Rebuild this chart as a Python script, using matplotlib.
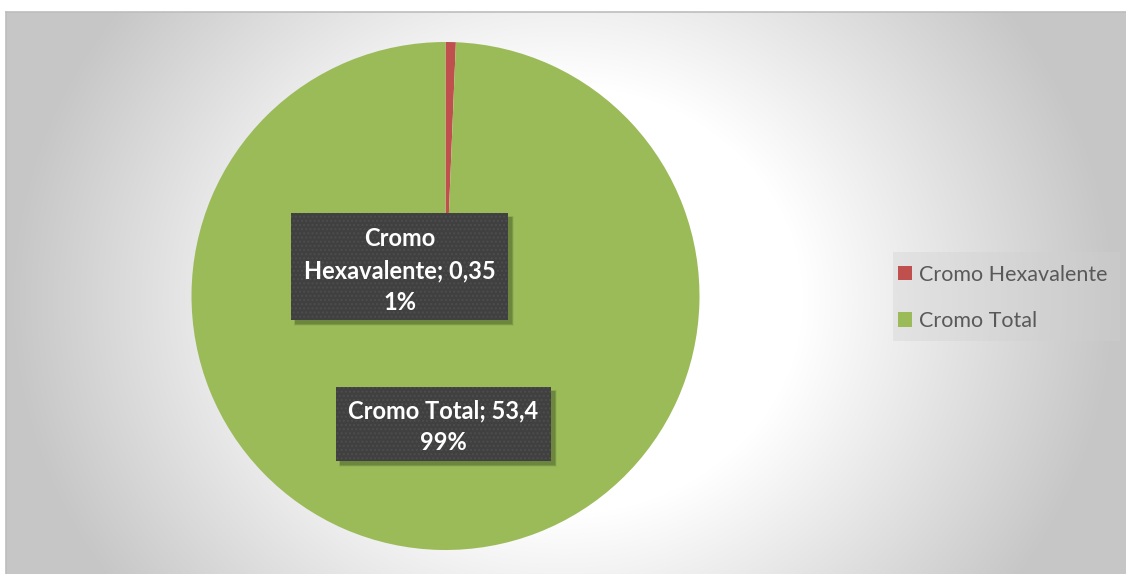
import matplotlib
matplotlib.use("Agg")
import matplotlib.pyplot as plt
import numpy as np
from matplotlib.patches import Rectangle

# ---- data ----
categories = ["Cromo Hexavalente", "Cromo Total"]
values = [0.35, 53.4]
colors = ["#C0504D", "#9BBB59"]

W, H = 1126, 574
fig = plt.figure(figsize=(W / 100, H / 100), dpi=100)
fig.patch.set_facecolor("white")
ax = fig.add_axes([0, 0, 1, 1])

def Y(y):
    return H - y

# ---- background radial gradient (chart area) ----
x0, y0, x1, y1 = 6, 12, W, H
xs = np.arange(x0, x1) + 0.5
ys = np.arange(y0, y1) + 0.5
XX, YY = np.meshgrid(xs, ys)
cx, cy = 563, 300
d = np.sqrt((XX - cx) ** 2 + ((YY - cy) * 1.12) ** 2)
g = 1.0 - 0.235 * np.clip((d - 240) / (330), 0, 1)
g = np.clip(g, 0.78, 1.0)
img = np.dstack([g, g, g])
ax.imshow(img, extent=(x0, x1, Y(y1), Y(y0)), origin="upper", zorder=0, aspect="auto")
ax.plot([x0, x0], [Y(y0), Y(y1)], color="#bdbdbd", lw=1.2, zorder=1)
ax.plot([x0, x1], [Y(y0), Y(y0)], color="#bdbdbd", lw=1.2, zorder=1)

# ---- pie ----
pcx, pcy, R = 445.5, 296, 254
wedges, _ = ax.pie(values, colors=colors, startangle=90, counterclock=False,
                   center=(pcx, Y(pcy)), radius=R, frame=True,
                   wedgeprops=dict(linewidth=0))
for w in wedges:
    w.set_zorder(2)

ax.set_xlim(0, W)
ax.set_ylim(0, H)
ax.set_aspect("auto")
ax.axis("off")

# ---- data labels ----
total = sum(values)

def fmt(v):
    return ("%g" % v).replace(".", ",")

label_boxes = [  # (left, top, width, height) in pixels
    (291, 213, 217, 107),
    (336, 387, 215, 74),
]
label_texts = [
    "Cromo\n%s; %s\n%d%%" % ("Hexavalente", fmt(values[0]), round(values[0] / total * 100)),
    "%s; %s\n%d%%" % (categories[1], fmt(values[1]), round(values[1] / total * 100)),
]
text_shift = [4, 3]

for (l, t, bw, bh), txt, sh in zip(label_boxes, label_texts, text_shift):
    # soft shadow
    for k, a in zip([6, 5, 4, 3], [0.05, 0.08, 0.12, 0.16]):
        ax.add_patch(Rectangle((l + 4 - (k - 3) * 0.5, Y(t + bh + 4) - (k - 3) * 0.5),
                               bw + (k - 3), bh + (k - 3),
                               facecolor="#1f2a10", edgecolor="none", alpha=a, zorder=3))
    ax.add_patch(Rectangle((l, Y(t + bh)), bw, bh, facecolor="#404040",
                           edgecolor="none", zorder=4))
    ax.add_patch(Rectangle((l, Y(t + bh)), bw, bh, facecolor="none",
                           edgecolor="#4d4d4d", hatch="....", linewidth=0, zorder=5))
    ax.text(l + bw / 2, Y(t + bh / 2 + sh), txt, ha="center", va="center",
            color="white", fontsize=17, fontweight="bold", family="Lato",
            linespacing=1.45, zorder=6)

# ---- legend ----
ax.add_patch(Rectangle((893, Y(341)), 227, 89, facecolor="#d0d0d0", alpha=0.35,
                       edgecolor="none", zorder=3))
leg = ax.legend(wedges, categories, loc="upper left",
                bbox_to_anchor=(896, Y(262.5)), bbox_transform=ax.transData,
                frameon=False, prop=dict(family="Lato", size=15.5),
                handlelength=0.66, handleheight=0.66, handletextpad=0.3,
                labelspacing=1.23, borderpad=0.1, borderaxespad=0)
for t in leg.get_texts():
    t.set_color("#595959")
leg.set_zorder(7)

fig.savefig("out.png", dpi=100, facecolor=fig.get_facecolor())
